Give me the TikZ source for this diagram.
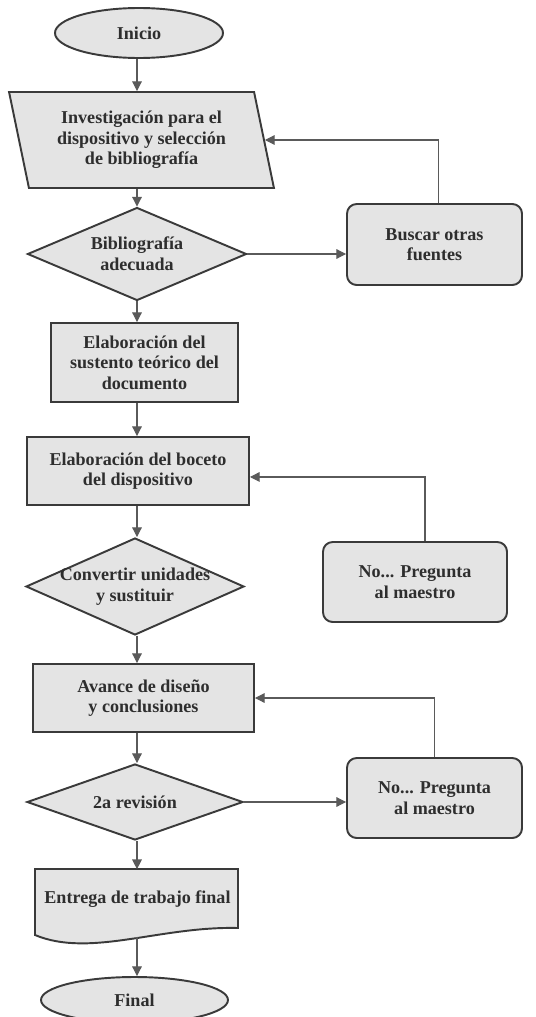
\documentclass[tikz,border=0pt]{standalone}
\usepackage{fontspec}
\setmainfont{Liberation Serif}
\usetikzlibrary{shapes.geometric}
\usetikzlibrary{arrows.meta}

% one pixel of the drawing
\newcommand\pix{0.02cm}

\definecolor{boxfill}{HTML}{E4E4E4}
\definecolor{boxline}{HTML}{3A3A3A}
\definecolor{flowline}{HTML}{5A5A5A}
\definecolor{boxtext}{HTML}{2E2E2E}

\tikzset{
    boxfont/.style={text=boxtext, font=\bfseries\fontsize{10.3}{11.7}\selectfont, align=center},
    block/.style={boxfont, draw=boxline, fill=boxfill, line width=1.1pt, inner sep=2pt},
    terminal/.style={block, ellipse},
    process/.style={block, rectangle},
    inputbox/.style={block, trapezium, trapezium left angle=103.5, trapezium right angle=76.5, trapezium stretches=true},
    decision/.style={block, diamond, inner sep=0pt},
    decision text/.style={boxfont},
    sidebox/.style={block, rectangle, rounded corners=5.5pt},
    doctext/.style={boxfont, inner sep=2pt},
    flow/.style={draw=flowline, line width=0.6pt, -{Triangle[length=5.5pt,width=5.5pt]}}
}

\begin{document}
\begin{tikzpicture}[x=0.02cm, y=-0.02cm]

\useasboundingbox (0,0) rectangle (535,1017);

% Column of the main flow
\coordinate (spine) at (137,0);

% Draws the main flow
\node[terminal, minimum width=168*\pix, minimum height=50*\pix] (inicio) at (139,33) {Inicio};
\node[inputbox, minimum width=265*\pix, minimum height=96*\pix] (investigacion) at (141.5,140)
    {Investigación para el\\dispositivo y selección\\de bibliografía};
\node[decision, minimum width=219*\pix, minimum height=93*\pix,
    label={[decision text]center:Bibliografía\\adecuada}] (bibliografia) at (137,254) {};
\node[process, minimum width=187*\pix, minimum height=79*\pix] (sustento) at (144.5,362.5)
    {Elaboración del\\sustento teórico del\\documento};
\node[process, minimum width=222*\pix, minimum height=68*\pix] (boceto) at (138,471)
    {Elaboración del boceto\\del dispositivo};
\node[decision, minimum width=218*\pix, minimum height=97*\pix,
    label={[decision text]center:Convertir unidades\\y sustituir}] (convertir) at (135,586.5) {};
\node[process, minimum width=221*\pix, minimum height=68*\pix] (avance) at (143.5,698)
    {Avance de diseño\\y conclusiones};
\node[decision, minimum width=216*\pix, minimum height=76*\pix,
    label={[decision text]center:2a revisión}] (revision) at (135,802) {};

% Draws the document shape, then its text
\draw[draw=boxline, fill=boxfill, line width=1.1pt]
    (35,869) -- (238,869) -- (238,928)
    .. controls (160,926) and (90,958) .. (35,935) -- cycle;
\node[doctext, minimum width=203*\pix, minimum height=59*\pix] (entrega) at (137.5,899)
    {Entrega de trabajo final};
\coordinate (entrega-tail) at (137,937);

\node[terminal, minimum width=187*\pix, minimum height=46*\pix] (final) at (134.5,1000) {Final};

% Side boxes
\node[sidebox, minimum width=175*\pix, minimum height=81*\pix] (buscar) at (434.5,244.5)
    {Buscar otras\\fuentes};
\node[sidebox, minimum width=184*\pix, minimum height=80*\pix] (preguntaA) at (415,582)
    {No... Pregunta\\al maestro};
\node[sidebox, minimum width=175*\pix, minimum height=80*\pix] (preguntaB) at (434.5,798)
    {No... Pregunta\\al maestro};

% Draws the connectors of the main flow
\foreach \a/\b in {inicio/investigacion, investigacion/bibliografia, bibliografia/sustento,
    sustento/boceto, boceto/convertir, convertir/avance, avance/revision, revision/entrega} {
    \draw[flow] (\a.south -| spine) -- (\b.north -| spine);
}
\draw[flow] (entrega-tail) -- (final.north -| spine);

% Draws the loops back
\draw[flow] (bibliografia.east) -- (bibliografia.east -| buscar.west);
\draw[flow] ([xshift=2.5pt]buscar.north) |- (investigacion.east);
\draw[flow] ([xshift=5.7pt]preguntaA.north) |- ([yshift=-3.4pt]boceto.east);
\draw[flow] (revision.east) -- (revision.east -| preguntaB.west);
\draw[flow] (preguntaB.north) |- (avance.east);

\end{tikzpicture}
\end{document}
